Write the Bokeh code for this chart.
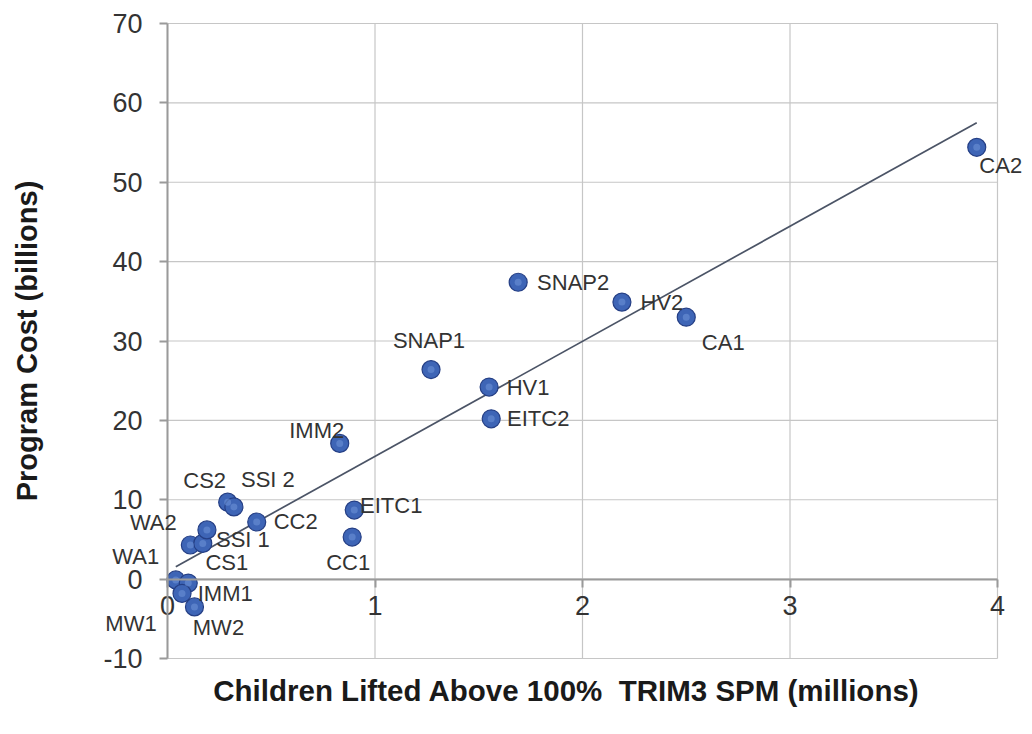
import numpy as np
from bokeh.plotting import figure
from bokeh.models import (ColumnDataSource, LabelSet, Label, Range1d, FixedTicker,
                          PrintfTickFormatter)
from bokeh.core.properties import value
from bokeh.embed import file_html
from bokeh.resources import INLINE

# ---- data ----
programs = ["CA2", "SNAP2", "HV2", "CA1", "SNAP1", "HV1", "EITC2", "IMM2", "EITC1", "CC1",
            "CC2", "CS2", "SSI 2", "WA2", "CS1", "SSI 1", "WA1", "IMM1", "MW1", "MW2"]
children_lifted = [3.90, 1.69, 2.19, 2.50, 1.27, 1.55, 1.56, 0.83, 0.90, 0.89,
                   0.43, 0.29, 0.32, 0.11, 0.17, 0.19, 0.04, 0.10, 0.07, 0.13]
program_cost = [54.4, 37.4, 34.9, 33.0, 26.4, 24.2, 20.2, 17.1, 8.7, 5.3,
                7.2, 9.7, 9.1, 4.3, 4.5, 6.2, -0.1, -0.5, -1.8, -3.5]
x_ticks = [0, 1, 2, 3, 4]
y_ticks = [-10, 0, 10, 20, 30, 40, 50, 60, 70]

# label placement (screen px offsets of label centre from its point; dy positive = down)
label_dx = [24, 55, 40, 37, -2, 39, 47, -23, 37, -4, 39, -23, 34, -37, 24, 36, -40, 37, -51, 24]
label_dy = [18, 0, 0, 25, -29, 0, 0, -13, -5, 25, 0, -22, -27, -22, 19, 10, -23, 10, 30, 21]

FONT = "Liberation Sans"

# ---- layout: frame fills the canvas, data area placed inside it ----
W, H = 1024, 718
PLOT_L, PLOT_R = 167, 997      # px of x = 0 and x = 4
PLOT_T, PLOT_B = 23, 658       # px of y = 70 and y = -10
xs = (PLOT_R - PLOT_L) / (x_ticks[-1] - x_ticks[0])
ys = (PLOT_B - PLOT_T) / (y_ticks[-1] - y_ticks[0])
x_range = Range1d(x_ticks[0] - PLOT_L / xs, x_ticks[-1] + (W - PLOT_R) / xs)
y_range = Range1d(y_ticks[0] - (H - PLOT_B) / ys, y_ticks[-1] + PLOT_T / ys)

src = ColumnDataSource(dict(
    x=children_lifted, y=program_cost, name=programs,
    xo=label_dx, yo=[-d for d in label_dy],
))

p = figure(
    width=W, height=H, min_border=0,
    x_range=x_range, y_range=y_range,
    output_backend="svg", toolbar_location=None,
    background_fill_color="white", border_fill_color="white",
)
p.outline_line_color = None
p.xgrid.visible = False
p.ygrid.visible = False

GRID = "#c6c6c6"
# gridlines spanning only the data area
p.segment(x0=x_ticks, y0=[y_ticks[0]] * len(x_ticks), x1=x_ticks, y1=[y_ticks[-1]] * len(x_ticks),
          line_color=GRID, line_width=1.2)
p.segment(x0=[x_ticks[0]] * len(y_ticks), y0=y_ticks, x1=[x_ticks[-1]] * len(y_ticks), y1=y_ticks,
          line_color=GRID, line_width=1.2)

AX = "#9a9a9a"
# x axis sits at y = 0
xa = p.xaxis[0]
xa.ticker = FixedTicker(ticks=x_ticks)
xa.fixed_location = 0
xa.bounds = (x_ticks[0], x_ticks[-1])
xa.axis_line_color = AX
xa.axis_line_width = 2
xa.major_tick_line_color = AX
xa.major_tick_line_width = 2
xa.major_tick_in = 0
xa.major_tick_out = 8
xa.minor_tick_line_color = None
xa.major_label_standoff = 9
xa.major_label_text_font = FONT
xa.major_label_text_font_size = "27px"
xa.major_label_text_color = "#333333"

ya = p.yaxis[0]
ya.ticker = FixedTicker(ticks=y_ticks)
ya.formatter = PrintfTickFormatter(format="%d")
ya.fixed_location = 0
ya.bounds = (y_ticks[0], y_ticks[-1])
ya.axis_line_color = AX
ya.axis_line_width = 2
ya.major_tick_line_color = AX
ya.major_tick_line_width = 2
ya.major_tick_in = 0
ya.major_tick_out = 8
ya.minor_tick_line_color = None
ya.major_label_standoff = 17
ya.major_label_text_font = FONT
ya.major_label_text_font_size = "27px"
ya.major_label_text_color = "#333333"
ya.axis_label = "Program Cost (billions)"
ya.axis_label_text_font = FONT
ya.axis_label_text_font_size = "29px"
ya.axis_label_text_font_style = "bold"
ya.axis_label_text_color = "#1a1a1a"
ya.axis_label_standoff = 57

# linear trendline
slope, intercept = np.polyfit(children_lifted, program_cost, 1)
tx = np.array([min(children_lifted), max(children_lifted)])
p.line(tx, slope * tx + intercept, line_color="#4b5466", line_width=1.7)

# points
p.scatter("x", "y", source=src, size=18, fill_color="#3e65b6", line_color="#253f85", line_width=1.2)
p.scatter("x", "y", source=src, size=7, fill_color="#7096d8", line_color=None, fill_alpha=0.55)

labels = LabelSet(x="x", y="y", text="name", source=src, x_offset="xo", y_offset="yo",
                  text_align="center", text_baseline="middle",
                  text_font=value(FONT), text_font_size=value("22px"), text_color="#333333")
p.add_layout(labels)

# x-axis title
p.add_layout(Label(x=(x_ticks[0] + x_ticks[-1]) / 2, y=y_ticks[0], x_offset=-16, y_offset=-32,
                   text="Children Lifted Above 100%\u00a0 TRIM3 SPM (millions)",
                   text_align="center", text_baseline="middle",
                   text_font=FONT, text_font_size="29.5px", text_font_style="bold",
                   text_color="#1a1a1a"))

open("out.html", "w").write(file_html(p, INLINE))
